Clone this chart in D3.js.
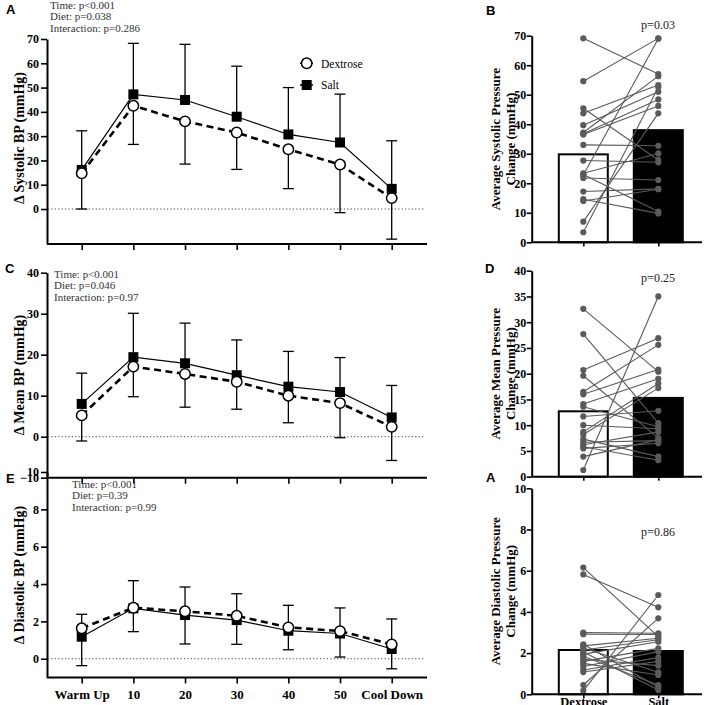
<!DOCTYPE html>
<html><head><meta charset="utf-8">
<script src="https://cdn.jsdelivr.net/npm/d3@7"></script>
<style>
body{margin:0;background:#fff}
svg{display:block}
text{font-family:"Liberation Serif","Times New Roman",serif}
</style>
</head><body><svg id="c" width="709" height="705"></svg>
<script>
// ---------- DATA ----------
const timepoints = ["Warm Up","10","20","30","40","50","Cool Down"];

const sysDex    = [14.7, 42.5, 36.1, 31.5, 24.6, 18.3, 4.5];
const sysSalt   = [16.1, 47.2, 44.9, 38.0, 30.7, 27.4, 8.3];
const sysSaltSD = [16.1, 21.0, 22.9, 20.8, 19.3, 19.9, 19.8];
const sysDexSD  = [14.7, 15.9, 17.6, 15.2, 16.2, 19.8, 16.9];

const mapDex    = [5.2, 17.1, 15.3, 13.4, 10.0, 8.2, 2.4];
const mapSalt   = [8.0, 19.4, 17.9, 15.0, 12.2, 10.9, 4.7];
const mapSaltSD = [7.5, 10.7, 9.8, 8.6, 8.6, 8.4, 7.8];
const mapDexSD  = [6.25, 7.35, 8.1, 6.7, 6.6, 8.45, 8.2];

const diaDex    = [1.63, 2.73, 2.54, 2.30, 1.68, 1.48, 0.77];
const diaSalt   = [1.18, 2.70, 2.34, 2.07, 1.50, 1.35, 0.52];
const diaSaltSD = [1.20, 1.48, 1.50, 1.41, 1.36, 1.37, 1.61];
const diaDexSD  = [2.00, 1.28, 1.75, 1.53, 1.20, 1.39, 1.31];

const sysTicks = [0,10,20,30,40,50,60,70];
const mapTicks = [-10,0,10,20,30,40];
const diaTicks = [0,2,4,6,8,10];

const diets = ["Dextrose","Salt"];
// individual subjects: average change, dextrose vs salt (paired by index)
const avgSysDex  = [69.1,54.6,45.4,43.7,39.7,37.2,36.8,36.5,33.0,27.7,23.4,23.0,22.8,21.8,17.2,14.6,14.0,7.0,3.4];
const avgSysSalt = [57.0,69.1,27.9,53.3,51.0,56.3,48.4,46.2,32.7,27.1,30.1,10.4,69.0,21.1,18.1,9.8,18.0,43.7,52.5];
const avgSysMeans = [29.8, 38.0];

const avgMapDex  = [32.6,27.7,20.7,19.6,16.5,16.0,14.1,13.6,11.7,10.0,8.7,8.2,7.3,6.7,6.2,5.8,5.5,3.9,1.3];
const avgMapSalt = [20.4,10.4,26.9,7.5,25.6,20.8,19.0,9.7,12.8,9.3,18.1,17.2,3.9,7.0,8.7,3.2,6.5,7.2,35.0];
const avgMapMeans = [12.7, 15.3];

const avgDiaDex  = [6.15,5.82,3.0,2.92,2.43,2.35,2.25,2.15,2.05,1.95,1.85,1.7,1.6,1.5,1.35,1.18,1.08,0.45,0.17];
const avgDiaSalt = [2.8,4.22,2.96,2.9,0.34,2.72,1.07,2.65,0.21,2.55,0.45,1.39,2.23,0.94,2.07,1.78,1.6,3.69,4.82];
const avgDiaMeans = [2.15, 2.10];

const avgSysTicks = [0,10,20,30,40,50,60,70];
const avgMapTicks = [0,5,10,15,20,25,30,35,40];
const avgDiaTicks = [0,2,4,6,8,10];

// ---------- DRAW ----------
const svg = d3.select("#c");
const x = d3.scalePoint().domain(timepoints).range([81.7, 391.7]);
const SERIF = '"Liberation Serif","Times New Roman",serif';

function styleAxis(g, fs){
  g.attr("font-family", SERIF);
  g.selectAll("path.domain").attr("stroke","#000").attr("stroke-width",2);
  g.selectAll(".tick line").attr("stroke","#000").attr("stroke-width",1.6);
  g.selectAll(".tick text").attr("fill","#000").style("font-size",fs+"px").style("font-weight","bold")
   .style("font-family",SERIF);
}

function linePanel(cfg){
  const y = d3.scaleLinear().domain(cfg.domain).range(cfg.range);
  const g = svg.append("g");
  const ya = g.append("g").attr("transform","translate(47,0)")
    .call(d3.axisLeft(y).tickValues(cfg.ticks).tickSize(6).tickSizeOuter(0).tickPadding(2).tickFormat(d3.format("d")));
  styleAxis(ya, 12);
  const xa = g.append("g").attr("transform",`translate(0,${cfg.range[0]})`)
    .call(d3.axisBottom(x).tickSize(6).tickSizeOuter(0).tickPadding(6).tickFormat(cfg.xlabels ? d=>d : ()=>""));
  xa.select("path.domain").attr("d",`M47,0H427`);
  styleAxis(xa, 13);
  g.append("line").attr("x1",48).attr("x2",424).attr("y1",y(0)).attr("y2",y(0))
    .attr("stroke","#444").attr("stroke-width",1).attr("stroke-dasharray","1.2,2.2");
  // error bars: salt upward, dextrose downward
  const eb = g.append("g").attr("stroke","#000").attr("stroke-width",1.3).attr("fill","none");
  timepoints.forEach((t,i)=>{
    const xi = x(t);
    const top = y(cfg.salt[i]+cfg.saltSD[i]), bot = y(cfg.dex[i]-cfg.dexSD[i]);
    eb.append("line").attr("x1",xi).attr("x2",xi).attr("y1",y(cfg.salt[i])).attr("y2",top);
    eb.append("line").attr("x1",xi-5.5).attr("x2",xi+5.5).attr("y1",top).attr("y2",top);
    eb.append("line").attr("x1",xi).attr("x2",xi).attr("y1",y(cfg.dex[i])).attr("y2",bot);
    eb.append("line").attr("x1",xi-5.5).attr("x2",xi+5.5).attr("y1",bot).attr("y2",bot);
  });
  const ln = d3.line().x((d,i)=>x(timepoints[i])).y(d=>y(d));
  g.append("path").datum(cfg.salt).attr("d",ln).attr("fill","none").attr("stroke","#000").attr("stroke-width",1.2);
  g.append("path").datum(cfg.dex).attr("d",ln).attr("fill","none").attr("stroke","#000").attr("stroke-width",2.6).attr("stroke-dasharray","7,4.5");
  g.selectAll("rect.sq").data(cfg.salt).join("rect").attr("class","sq")
    .attr("x",(d,i)=>x(timepoints[i])-5).attr("y",d=>y(d)-5).attr("width",10).attr("height",10).attr("fill","#000");
  g.selectAll("circle.ci").data(cfg.dex).join("circle").attr("class","ci")
    .attr("cx",(d,i)=>x(timepoints[i])).attr("cy",d=>y(d)).attr("r",5.2).attr("fill","#fff").attr("stroke","#000").attr("stroke-width",1.5);
  g.append("text").attr("transform",`translate(24,${cfg.titleY}) rotate(-90)`).attr("text-anchor","middle")
    .style("font-size","14px").style("font-weight","bold").text(cfg.title);
  cfg.stats.forEach((s,i)=>{
    g.append("text").attr("x",cfg.statsX).attr("y",cfg.statsY+i*11.8).style("font-size","11px").attr("fill","#333").text(s);
  });
  g.append("text").attr("x",cfg.letterPos[0]).attr("y",cfg.letterPos[1]).style("font-family",'"Liberation Sans",Arial,sans-serif')
    .style("font-size","13px").style("font-weight","bold").text(cfg.letter);
  return y;
}

linePanel({domain:[-14.4,70], range:[244,39], ticks:sysTicks, dex:sysDex, salt:sysSalt, saltSD:sysSaltSD, dexSD:sysDexSD,
  title:"Δ Systolic BP (mmHg)", titleY:138, stats:["Time: p<0.001","Diet: p=0.038","Interaction: p=0.286"], statsX:50, statsY:8.5,
  letter:"A", letterPos:[6,14], xlabels:false});
linePanel({domain:[-10,40], range:[477.7,272.7], ticks:mapTicks, dex:mapDex, salt:mapSalt, saltSD:mapSaltSD, dexSD:mapDexSD,
  title:"Δ Mean BP (mmHg)", titleY:375, stats:["Time: p<0.001","Diet: p=0.046","Interaction: p=0.97"], statsX:54, statsY:277.5,
  letter:"C", letterPos:[5,273], xlabels:false});
linePanel({domain:[-1,10], range:[677.4,472], ticks:diaTicks, dex:diaDex, salt:diaSalt, saltSD:diaSaltSD, dexSD:diaDexSD,
  title:"Δ Diastolic BP (mmHg)", titleY:575, stats:["Time: p<0.001","Diet: p=0.39","Interaction: p=0.99"], statsX:72, statsY:487.5,
  letter:"E", letterPos:[6,483], xlabels:true});

// legend
const lg = svg.append("g");
lg.append("line").attr("x1",300).attr("x2",313).attr("y1",63.3).attr("y2",63.3).attr("stroke","#000").attr("stroke-width",1.5);
lg.append("circle").attr("cx",306.7).attr("cy",63.3).attr("r",5.2).attr("fill","#fff").attr("stroke","#000").attr("stroke-width",1.5);
lg.append("text").attr("x",321).attr("y",67.5).style("font-size","11.5px").text("Dextrose");
lg.append("line").attr("x1",300).attr("x2",313).attr("y1",85).attr("y2",85).attr("stroke","#000").attr("stroke-width",1.5);
lg.append("rect").attr("x",301.7).attr("y",80).attr("width",10).attr("height",10).attr("fill","#000");
lg.append("text").attr("x",321).attr("y",89).style("font-size","11.5px").text("Salt");

// bar panels
const xb = d3.scalePoint().domain(diets).range([583.3, 658.3]);
function barPanel(cfg){
  const y = d3.scaleLinear().domain(cfg.domain).range(cfg.range);
  const g = svg.append("g");
  g.selectAll("rect.bar").data(cfg.means).join("rect").attr("class","bar")
    .attr("x",(d,i)=>xb(diets[i])-24.5).attr("y",d=>y(d)).attr("width",49).attr("height",d=>y(0)-y(d))
    .attr("fill",(d,i)=>i===0?"#fff":"#000").attr("stroke","#000").attr("stroke-width",2);
  const pairs = cfg.dex.map((d,i)=>[d,cfg.salt[i]]);
  g.selectAll("line.pair").data(pairs).join("line").attr("class","pair")
    .attr("x1",xb("Dextrose")).attr("x2",xb("Salt")).attr("y1",d=>y(d[0])).attr("y2",d=>y(d[1]))
    .attr("stroke","#5a5a5a").attr("stroke-width",1.1);
  g.selectAll("circle.pd").data(cfg.dex).join("circle").attr("class","pd")
    .attr("cx",xb("Dextrose")).attr("cy",d=>y(d)).attr("r",3.1).attr("fill","#5a5a5a");
  g.selectAll("circle.ps").data(cfg.salt).join("circle").attr("class","ps")
    .attr("cx",xb("Salt")).attr("cy",d=>y(d)).attr("r",3.1).attr("fill","#5a5a5a");
  const ya = g.append("g").attr("transform","translate(531.7,0)")
    .call(d3.axisLeft(y).tickValues(cfg.ticks).tickSize(5).tickSizeOuter(0).tickPadding(0.5).tickFormat(d3.format("d")));
  styleAxis(ya, 12);
  const xa = g.append("g").attr("transform",`translate(0,${y(0)})`)
    .call(d3.axisBottom(xb).tickSize(4).tickSizeOuter(0).tickPadding(-1).tickFormat(cfg.xlabels ? d=>d : ()=>""));
  xa.select("path.domain").attr("d","M531.7,0H702");
  styleAxis(xa, 12.5);
  const cy = (cfg.range[0]+cfg.range[1])/2;
  g.append("text").attr("transform",`translate(500,${cy}) rotate(-90)`).attr("text-anchor","middle")
    .style("font-size","13px").style("font-weight","bold").text(cfg.title[0]);
  g.append("text").attr("transform",`translate(514.5,${cy}) rotate(-90)`).attr("text-anchor","middle")
    .style("font-size","13px").style("font-weight","bold").text(cfg.title[1]);
  g.append("text").attr("x",658).attr("y",cfg.pY).attr("text-anchor","middle").style("font-size","12px").attr("fill","#222").text(cfg.p);
  g.append("text").attr("x",cfg.letterPos[0]).attr("y",cfg.letterPos[1]).style("font-family",'"Liberation Sans",Arial,sans-serif')
    .style("font-size","13px").style("font-weight","bold").text(cfg.letter);
}
barPanel({domain:[0,70], range:[242.3,35.7], ticks:avgSysTicks, dex:avgSysDex, salt:avgSysSalt, means:avgSysMeans,
  title:["Average Systolic Pressure","Change (mmHg)"], p:"p=0.03", pY:29, letter:"B", letterPos:[486,15], xlabels:false});
barPanel({domain:[0,40], range:[476.7,270.7], ticks:avgMapTicks, dex:avgMapDex, salt:avgMapSalt, means:avgMapMeans,
  title:["Average Mean Pressure","Change (mmHg)"], p:"p=0.25", pY:282, letter:"D", letterPos:[485,273], xlabels:false});
barPanel({domain:[0,10], range:[694.3,488.3], ticks:avgDiaTicks, dex:avgDiaDex, salt:avgDiaSalt, means:avgDiaMeans,
  title:["Average Diastolic Pressure","Change (mmHg)"], p:"p=0.86", pY:536, letter:"A", letterPos:[486,482], xlabels:true});
</script></body></html>
